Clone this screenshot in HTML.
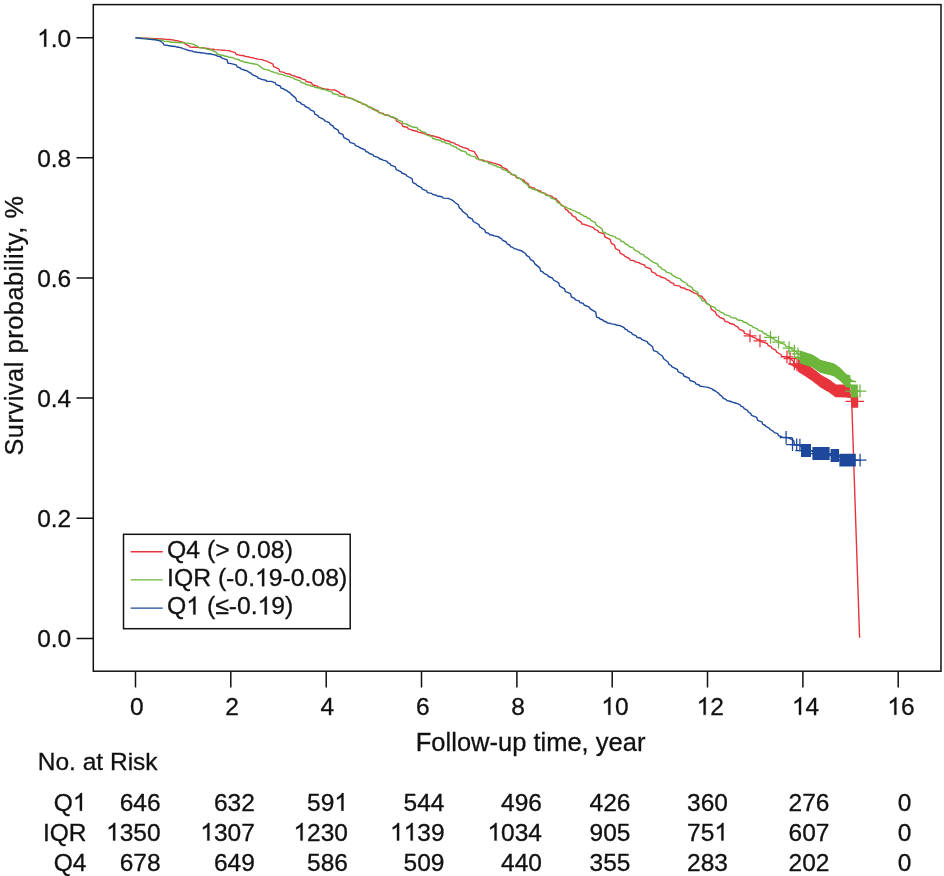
<!DOCTYPE html>
<html><head><meta charset="utf-8"><title>Survival</title>
<style>
html,body{margin:0;padding:0;background:#fff;}
svg{display:block;will-change:transform;opacity:0.999;}
text{white-space:pre;font-family:"Liberation Sans",sans-serif;font-size:24.5px;fill:#111;stroke:#111;stroke-width:0.3px;}
.g1{fill:#111;stroke:#111;stroke-width:0.012px;stroke-linejoin:round;}
</style></head><body>
<svg width="944" height="876" viewBox="0 0 944 876">
<rect width="944" height="876" fill="#fff"/>
<rect x="93.3" y="4.6" width="847.7" height="666.6" fill="none" stroke="#111" stroke-width="1.5"/>
<path d="M76.5,638.4H93.3M76.5,518.3H93.3M76.5,398.1H93.3M76.5,278.0H93.3M76.5,157.8H93.3M76.5,37.7H93.3M135.5,671.2V687.5M230.8,671.2V687.5M326.2,671.2V687.5M421.5,671.2V687.5M516.9,671.2V687.5M612.2,671.2V687.5M707.5,671.2V687.5M802.9,671.2V687.5M898.2,671.2V687.5" stroke="#111" stroke-width="1.5" fill="none"/>
<text x="37.14" y="647.4">0.0</text>
<text x="37.14" y="527.3">0.2</text>
<text x="37.14" y="407.1">0.4</text>
<text x="37.14" y="287.0">0.6</text>
<text x="37.14" y="166.8">0.8</text>
<path class="g1" transform="translate(37.14,46.7) scale(24.5)" d="M0.3726,0H0.2847V-0.5601Q0.2529,-0.5298 0.2014,-0.4995Q0.1499,-0.4692 0.1089,-0.4541V-0.5391Q0.1826,-0.5737 0.2378,-0.6230Q0.2930,-0.6724 0.3159,-0.7188H0.3726Z"/><text x="50.77" y="46.7">.0</text>
<text x="129.89" y="714.8">0</text>
<text x="225.23" y="714.8">2</text>
<text x="320.57" y="714.8">4</text>
<text x="415.91" y="714.8">6</text>
<text x="511.25" y="714.8">8</text>
<path class="g1" transform="translate(601.27,714.8) scale(24.5)" d="M0.3726,0H0.2847V-0.5601Q0.2529,-0.5298 0.2014,-0.4995Q0.1499,-0.4692 0.1089,-0.4541V-0.5391Q0.1826,-0.5737 0.2378,-0.6230Q0.2930,-0.6724 0.3159,-0.7188H0.3726Z"/><text x="614.90" y="714.8">0</text>
<path class="g1" transform="translate(696.61,714.8) scale(24.5)" d="M0.3726,0H0.2847V-0.5601Q0.2529,-0.5298 0.2014,-0.4995Q0.1499,-0.4692 0.1089,-0.4541V-0.5391Q0.1826,-0.5737 0.2378,-0.6230Q0.2930,-0.6724 0.3159,-0.7188H0.3726Z"/><text x="710.24" y="714.8">2</text>
<path class="g1" transform="translate(791.95,714.8) scale(24.5)" d="M0.3726,0H0.2847V-0.5601Q0.2529,-0.5298 0.2014,-0.4995Q0.1499,-0.4692 0.1089,-0.4541V-0.5391Q0.1826,-0.5737 0.2378,-0.6230Q0.2930,-0.6724 0.3159,-0.7188H0.3726Z"/><text x="805.58" y="714.8">4</text>
<path class="g1" transform="translate(887.29,714.8) scale(24.5)" d="M0.3726,0H0.2847V-0.5601Q0.2529,-0.5298 0.2014,-0.4995Q0.1499,-0.4692 0.1089,-0.4541V-0.5391Q0.1826,-0.5737 0.2378,-0.6230Q0.2930,-0.6724 0.3159,-0.7188H0.3726Z"/><text x="900.92" y="714.8">6</text>
<text x="415.8" y="750.8" style="font-size:25.5px">Follow-up time, year</text>
<text transform="translate(22.8,455.6) rotate(-90)" textLength="259.5" lengthAdjust="spacing" style="font-size:25.3px">Survival probability, %</text>
<g fill="none" stroke-width="1.4" stroke-linejoin="round">
<path d="M135.5,37.8L138.4,37.9L139.3,38.0L143.3,38.1L144.2,38.2L147.6,38.3L148.5,38.4L152.7,38.5L153.6,38.7L157.9,38.8L158.8,38.9L161.2,39.0L162.1,39.0L164.2,39.1L165.1,39.2L170.1,39.5L171.0,39.8L174.1,40.1L175.0,40.5L177.9,40.8L178.8,41.1L184.4,42.6L185.3,44.1L189.0,45.8L189.9,47.1L194.9,47.2L195.8,47.4L199.6,47.6L200.5,47.7L204.8,47.9L205.7,48.1L208.4,48.5L209.3,48.9L213.6,49.2L214.5,49.6L219.6,49.9L220.5,50.1L224.5,50.3L225.4,50.4L230.0,50.8L230.9,51.3L235.4,52.7L236.3,54.5L238.6,54.9L239.5,55.2L244.3,55.8L245.2,56.4L249.3,57.0L250.2,57.5L253.4,57.9L254.3,58.4L256.5,58.7L257.4,59.1L262.5,59.6L263.4,60.4L267.2,61.1L268.1,61.8L272.7,63.8L273.6,66.7L278.8,68.8L279.7,71.6L284.3,72.4L285.2,73.4L290.5,74.3L291.4,75.4L294.9,76.0L295.8,76.7L300.7,78.0L301.6,78.9L305.2,79.9L306.1,81.5L311.5,82.7L312.4,84.7L317.6,86.1L318.5,87.1L320.9,87.9L321.8,88.5L324.4,88.8L325.3,89.1L328.2,89.3L329.1,89.6L334.6,90.0L335.5,90.3L339.1,92.2L340.0,93.5L344.3,94.9L345.2,97.0L348.3,97.5L349.2,97.8L353.1,99.0L354.0,99.9L357.5,101.0L358.4,102.0L361.7,102.9L362.6,104.0L366.7,105.0L367.6,106.5L371.8,107.7L372.7,109.2L377.9,110.6L378.8,112.6L383.3,113.4L384.2,114.7L389.6,115.7L390.5,116.7L395.6,118.5L396.5,121.0L402.0,124.0L402.9,126.5L407.4,127.3L408.3,128.8L411.0,129.6L411.9,130.3L417.0,131.2L417.9,132.1L423.4,133.2L424.3,133.9L429.5,134.9L430.4,135.5L434.5,136.3L435.4,136.8L440.0,137.8L440.9,138.8L443.7,139.3L444.6,140.2L449.7,141.3L450.6,142.3L454.7,143.1L455.6,144.4L458.7,145.1L459.6,146.1L461.9,146.8L462.8,147.4L467.9,148.7L468.8,150.1L474.3,151.6L475.2,153.4L477.6,157.0L478.5,159.5L483.4,160.2L484.3,160.9L487.9,161.4L488.8,162.0L491.4,162.4L492.3,162.9L495.4,163.5L496.3,163.9L501.1,165.5L502.0,167.2L507.2,169.5L508.1,171.4L510.3,172.7L511.2,174.3L515.5,175.7L516.4,177.8L518.6,178.0L519.5,178.3L524.2,180.4L525.1,182.1L528.3,183.9L529.2,186.6L534.4,188.1L535.3,189.3L540.8,191.1L541.7,192.3L545.6,193.6L546.5,194.6L552.1,196.4L553.0,197.8L556.2,198.7L557.1,200.4L559.5,202.3L560.4,204.0L564.6,207.0L565.5,209.3L567.7,210.4L568.6,212.2L571.4,213.6L572.3,215.6L575.8,217.3L576.7,219.7L580.9,221.8L581.8,224.0L584.5,224.4L585.4,225.0L587.6,225.4L588.5,225.8L593.7,227.7L594.6,229.3L597.7,230.3L598.6,232.1L604.1,233.9L605.0,237.0L610.2,239.3L611.1,243.1L614.6,245.2L615.5,248.6L619.2,250.3L620.1,253.1L624.0,255.1L624.9,256.4L629.3,258.5L630.2,260.1L634.3,260.7L635.2,261.9L639.3,262.7L640.2,263.7L644.5,265.0L645.4,266.8L650.8,268.9L651.7,271.8L655.5,273.3L656.4,275.1L660.0,276.1L660.9,277.0L665.6,278.4L666.5,279.7L669.4,280.9L670.3,282.3L673.4,283.4L674.3,285.1L679.9,286.1L680.8,287.5L684.7,288.2L685.6,289.2L689.6,290.1L690.5,291.0L692.7,292.0L693.6,292.8L697.1,293.9L698.0,295.3L702.1,296.4L703.0,298.3L705.2,300.0L706.1,302.7L710.4,305.7L711.3,309.4L715.6,312.1L716.5,314.9L718.8,316.2L719.7,317.3L724.0,319.0L724.9,321.2L728.6,322.3L729.5,323.3L734.0,324.5L734.9,325.6L738.2,327.2L739.1,329.1L743.7,331.0L744.6,333.4L749.3,334.6L750.2,335.8L752.4,336.6L753.3,337.4L755.6,338.1L756.5,339.0L760.9,340.5L761.8,341.8L767.3,343.5L768.2,345.5L771.2,346.6L772.1,348.3L775.8,350.2L776.7,352.2L780.9,354.5L781.8,356.5L785.0,356.6L785.9,356.7L789.3,357.6L790.2,358.7L793.3,361.0L794.2,363.7L797.6,364.7L798.5,365.5L802.7,367.4L803.6,368.8L806.8,369.9L807.7,371.4L811.1,373.0L812.0,374.2L816.8,376.7L817.7,378.7L819.9,379.8L820.8,381.2L824.9,382.5L825.8,384.0L830.5,385.4L831.4,387.5L834.5,389.2L835.4,390.6L838.3,390.7L839.2,390.9L844.1,391.0L845.0,391.1L848.0,391.3L848.9,391.5L850.8,396.5L851.7,401.3 L859.6,637.8" stroke="#E6333C"/>
<path d="M743.6,335.8h12.8M750.0,329.4v12.8M753.6,340.8h12.8M760.0,334.4v12.8M780.6,356.8h12.8M787.0,350.4v12.8M783.7,358.6h12.8M790.1,352.2v12.8M788.0,363.9h12.8M794.4,357.5v12.8M790.6,364.9h12.8M797.0,358.5v12.8M792.2,365.5h12.8M798.6,359.1v12.8M793.0,366.0h12.8M799.4,359.6v12.8M793.8,366.5h12.8M800.2,360.1v12.8M794.6,367.1h12.8M801.0,360.7v12.8M795.4,367.6h12.8M801.8,361.2v12.8M796.2,368.1h12.8M802.6,361.7v12.8M797.0,368.6h12.8M803.4,362.2v12.8M797.8,369.2h12.8M804.2,362.8v12.8M798.6,369.7h12.8M805.0,363.3v12.8M799.4,370.2h12.8M805.8,363.8v12.8M800.2,370.7h12.8M806.6,364.3v12.8M801.0,371.2h12.8M807.4,364.8v12.8M801.8,371.8h12.8M808.2,365.4v12.8M802.6,372.3h12.8M809.0,365.9v12.8M803.4,372.8h12.8M809.8,366.4v12.8M804.2,373.3h12.8M810.6,366.9v12.8M805.0,373.8h12.8M811.4,367.4v12.8M805.8,374.4h12.8M812.2,368.0v12.8M806.6,375.0h12.8M813.0,368.6v12.8M807.4,375.6h12.8M813.8,369.2v12.8M808.2,376.3h12.8M814.6,369.9v12.8M809.0,376.9h12.8M815.4,370.5v12.8M809.8,377.5h12.8M816.2,371.1v12.8M810.6,378.2h12.8M817.0,371.8v12.8M811.4,378.8h12.8M817.8,372.4v12.8M812.2,379.4h12.8M818.6,373.0v12.8M813.0,380.1h12.8M819.4,373.7v12.8M813.8,380.7h12.8M820.2,374.3v12.8M814.6,381.3h12.8M821.0,374.9v12.8M815.4,381.8h12.8M821.8,375.4v12.8M816.2,382.2h12.8M822.6,375.8v12.8M817.0,382.7h12.8M823.4,376.3v12.8M817.8,383.1h12.8M824.2,376.7v12.8M818.6,383.6h12.8M825.0,377.2v12.8M819.4,384.0h12.8M825.8,377.6v12.8M820.2,384.5h12.8M826.6,378.1v12.8M821.0,384.9h12.8M827.4,378.5v12.8M821.8,385.4h12.8M828.2,379.0v12.8M822.6,385.8h12.8M829.0,379.4v12.8M823.4,386.4h12.8M829.8,380.0v12.8M824.2,387.0h12.8M830.6,380.6v12.8M825.0,387.6h12.8M831.4,381.2v12.8M825.8,388.2h12.8M832.2,381.8v12.8M826.6,388.8h12.8M833.0,382.4v12.8M827.4,389.4h12.8M833.8,383.0v12.8M828.2,390.0h12.8M834.6,383.6v12.8M829.0,390.6h12.8M835.4,384.2v12.8M829.8,390.8h12.8M836.2,384.4v12.8M830.6,390.8h12.8M837.0,384.4v12.8M831.4,390.8h12.8M837.8,384.4v12.8M832.2,390.9h12.8M838.6,384.5v12.8M833.0,390.9h12.8M839.4,384.5v12.8M833.8,390.9h12.8M840.2,384.5v12.8M834.6,390.9h12.8M841.0,384.5v12.8M835.4,390.9h12.8M841.8,384.5v12.8M836.2,391.0h12.8M842.6,384.6v12.8M837.0,391.0h12.8M843.4,384.6v12.8M837.8,391.0h12.8M844.2,384.6v12.8M838.6,391.1h12.8M845.0,384.7v12.8M839.4,391.2h12.8M845.8,384.8v12.8M840.2,391.2h12.8M846.6,384.8v12.8M841.0,391.3h12.8M847.4,384.9v12.8M841.8,391.4h12.8M848.2,385.0v12.8M842.6,391.5h12.8M849.0,385.1v12.8M843.4,391.6h12.8M849.8,385.2v12.8M845.6,401.3h12.8M852.0,394.9v12.8M846.4,401.3h12.8M852.8,394.9v12.8M847.2,401.3h12.8M853.6,394.9v12.8M848.0,401.3h12.8M854.4,394.9v12.8M848.8,401.3h12.8M855.2,394.9v12.8M849.6,401.3h12.8M856.0,394.9v12.8M850.4,401.3h12.8M856.8,394.9v12.8M851.2,401.3h12.8M857.6,394.9v12.8" stroke="#E6333C" stroke-width="1.25"/>
<path d="M135.5,37.8L139.8,38.0L140.7,38.3L145.4,38.5L146.3,38.8L151.2,39.0L152.1,39.3L157.5,39.6L158.4,39.9L163.0,40.5L163.9,41.1L169.3,41.5L170.2,42.2L172.4,42.3L173.3,42.3L177.0,42.5L177.9,42.6L183.3,42.8L184.2,43.0L188.6,43.1L189.5,43.4L194.7,44.6L195.6,45.8L198.1,46.4L199.0,47.4L202.8,47.9L203.7,48.4L206.6,48.9L207.5,49.3L211.5,50.0L212.4,50.5L216.5,52.4L217.4,54.2L219.6,54.7L220.5,55.0L223.4,55.4L224.3,56.0L227.3,56.5L228.2,57.0L233.5,57.9L234.4,58.6L239.2,59.8L240.1,60.7L242.8,61.3L243.7,62.0L248.6,62.7L249.5,63.2L252.1,63.5L253.0,63.8L257.2,64.4L258.1,65.0L260.7,66.8L261.6,67.9L263.7,68.8L264.6,69.4L269.7,70.4L270.6,71.4L273.4,72.0L274.3,72.6L277.2,73.1L278.1,73.9L283.6,74.9L284.5,75.6L289.7,76.6L290.6,77.3L293.7,78.2L294.6,79.2L300.1,80.8L301.0,82.3L305.0,83.5L305.9,84.5L310.3,85.4L311.2,86.1L314.0,86.6L314.9,87.2L320.3,88.2L321.2,89.0L325.8,89.7L326.7,90.4L332.1,92.2L333.0,93.8L338.3,94.9L339.2,96.2L342.3,96.5L343.2,96.9L346.6,97.3L347.5,97.6L350.2,98.0L351.1,98.5L353.7,99.4L354.6,100.1L356.9,100.7L357.8,101.7L360.9,102.4L361.8,103.6L366.1,104.7L367.0,106.0L369.1,106.9L370.0,107.7L374.4,108.9L375.3,110.6L378.6,111.8L379.5,112.9L382.7,113.8L383.6,114.6L388.6,115.2L389.5,116.4L393.3,117.0L394.2,117.8L397.4,118.8L398.3,120.3L402.0,121.4L402.9,123.4L407.5,124.2L408.4,125.5L410.7,126.0L411.6,126.7L417.1,127.7L418.0,129.3L420.2,130.1L421.1,131.3L425.8,132.7L426.7,135.1L431.8,136.7L432.7,138.5L434.9,139.0L435.8,139.5L440.6,140.5L441.5,141.5L444.9,142.3L445.8,143.2L449.9,144.0L450.8,145.2L452.9,145.9L453.8,146.5L456.1,147.1L457.0,148.4L459.7,149.3L460.6,150.5L466.1,152.1L467.0,154.2L469.8,155.0L470.7,155.9L475.4,156.9L476.3,158.5L481.7,159.9L482.6,161.1L488.0,162.1L488.9,163.5L492.2,164.1L493.1,165.1L496.4,166.0L497.3,166.9L501.3,167.8L502.2,169.3L507.0,170.7L507.9,172.2L510.3,172.9L511.2,173.9L516.0,175.5L516.9,177.1L521.8,179.6L522.7,181.3L527.8,184.8L528.7,187.6L530.9,188.1L531.8,188.8L537.2,190.2L538.1,191.3L540.5,192.1L541.4,192.7L544.7,193.7L545.6,195.0L549.9,196.1L550.8,197.8L556.1,199.9L557.0,202.1L560.3,203.8L561.2,205.6L566.5,207.1L567.4,208.2L571.4,209.5L572.3,210.3L575.5,211.2L576.4,212.1L579.6,213.0L580.5,214.1L583.2,215.3L584.1,216.2L586.5,216.8L587.4,218.0L590.0,218.9L590.9,220.3L595.4,222.7L596.3,225.2L601.9,228.6L602.8,232.0L605.5,232.6L606.4,233.6L608.7,234.4L609.6,235.1L615.1,236.8L616.0,238.1L620.0,239.4L620.9,241.0L624.4,242.4L625.3,243.9L628.2,245.0L629.1,246.5L633.3,247.9L634.2,249.8L639.2,252.1L640.1,253.6L643.8,254.9L644.7,256.6L648.3,258.3L649.2,259.5L651.5,260.8L652.4,261.8L657.7,264.1L658.6,266.4L660.8,267.4L661.7,268.8L665.5,270.7L666.4,272.1L671.4,273.7L672.3,275.4L674.9,276.3L675.8,277.4L680.5,278.8L681.4,280.6L686.8,283.5L687.7,285.4L692.0,287.4L692.9,289.6L697.8,292.4L698.7,296.4L701.1,298.3L702.0,300.5L705.6,301.7L706.5,303.5L709.2,304.7L710.1,305.9L715.1,307.6L716.0,309.6L719.2,310.6L720.1,311.9L723.7,313.4L724.6,314.6L730.2,316.2L731.1,317.6L736.2,318.3L737.1,319.7L742.6,320.8L743.5,322.0L747.2,323.0L748.1,324.3L751.9,325.9L752.8,327.1L757.5,328.8L758.4,330.3L762.2,331.4L763.1,333.0L766.2,334.0L767.1,335.3L770.6,336.3L771.5,337.9L774.1,339.2L775.0,340.1L778.4,341.2L779.3,342.7L784.9,344.4L785.8,346.2L791.2,347.9L792.1,349.8L796.4,351.6L797.3,353.3L801.2,355.5L802.1,357.6L805.4,358.4L806.3,359.0L808.7,359.4L809.6,360.1L812.6,361.0L813.5,361.7L818.4,363.3L819.3,365.5L824.4,366.5L825.3,367.6L828.7,368.1L829.6,368.7L834.4,369.6L835.3,370.9L840.1,373.0L841.0,375.2L845.6,377.8L846.5,380.8L850.9,385.3L851.8,391.0L856.6,391.0L857.5,391.0L859.1,391.0L860.0,391.0" stroke="#6DB63C"/>
<path d="M764.1,337.3h12.8M770.5,330.9v12.8M772.1,342.2h12.8M778.5,335.8v12.8M782.7,348.0h12.8M789.1,341.6v12.8M788.0,351.2h12.8M794.4,344.8v12.8M791.6,353.8h12.8M798.0,347.4v12.8M793.8,357.0h12.8M800.2,350.6v12.8M794.6,357.3h12.8M801.0,350.9v12.8M795.4,357.5h12.8M801.8,351.1v12.8M796.2,357.8h12.8M802.6,351.4v12.8M797.0,358.0h12.8M803.4,351.6v12.8M797.8,358.3h12.8M804.2,351.9v12.8M798.6,358.6h12.8M805.0,352.2v12.8M799.4,358.8h12.8M805.8,352.4v12.8M800.2,359.1h12.8M806.6,352.7v12.8M801.0,359.4h12.8M807.4,353.0v12.8M801.8,359.6h12.8M808.2,353.2v12.8M802.6,359.9h12.8M809.0,353.5v12.8M803.4,360.1h12.8M809.8,353.7v12.8M804.2,360.4h12.8M810.6,354.0v12.8M805.0,360.7h12.8M811.4,354.3v12.8M805.8,360.9h12.8M812.2,354.5v12.8M806.6,361.4h12.8M813.0,355.0v12.8M807.4,361.9h12.8M813.8,355.5v12.8M808.2,362.4h12.8M814.6,356.0v12.8M809.0,363.0h12.8M815.4,356.6v12.8M809.8,363.5h12.8M816.2,357.1v12.8M810.6,364.0h12.8M817.0,357.6v12.8M811.4,364.5h12.8M817.8,358.1v12.8M812.2,365.1h12.8M818.6,358.7v12.8M813.0,365.6h12.8M819.4,359.2v12.8M813.8,366.1h12.8M820.2,359.7v12.8M814.6,366.5h12.8M821.0,360.1v12.8M815.4,366.7h12.8M821.8,360.3v12.8M816.2,366.9h12.8M822.6,360.5v12.8M817.0,367.1h12.8M823.4,360.7v12.8M817.8,367.3h12.8M824.2,360.9v12.8M818.6,367.5h12.8M825.0,361.1v12.8M819.4,367.7h12.8M825.8,361.3v12.8M820.2,367.9h12.8M826.6,361.5v12.8M821.0,368.1h12.8M827.4,361.7v12.8M821.8,368.3h12.8M828.2,361.9v12.8M822.6,368.5h12.8M829.0,362.1v12.8M823.4,368.7h12.8M829.8,362.3v12.8M824.2,368.9h12.8M830.6,362.5v12.8M825.0,369.1h12.8M831.4,362.7v12.8M825.8,369.3h12.8M832.2,362.9v12.8M826.6,369.5h12.8M833.0,363.1v12.8M827.4,369.8h12.8M833.8,363.4v12.8M828.2,370.4h12.8M834.6,364.0v12.8M829.0,370.9h12.8M835.4,364.5v12.8M829.8,371.5h12.8M836.2,365.1v12.8M830.6,372.0h12.8M837.0,365.6v12.8M831.4,372.6h12.8M837.8,366.2v12.8M832.2,373.1h12.8M838.6,366.7v12.8M833.0,373.7h12.8M839.4,367.3v12.8M833.8,374.3h12.8M840.2,367.9v12.8M834.6,375.2h12.8M841.0,368.8v12.8M835.4,376.0h12.8M841.8,369.6v12.8M836.2,376.9h12.8M842.6,370.5v12.8M837.0,377.7h12.8M843.4,371.3v12.8M837.8,378.6h12.8M844.2,372.2v12.8M838.6,379.4h12.8M845.0,373.0v12.8M839.4,380.3h12.8M845.8,373.9v12.8M840.2,380.9h12.8M846.6,374.5v12.8M841.0,381.0h12.8M847.4,374.6v12.8M841.8,381.2h12.8M848.2,374.8v12.8M842.6,381.4h12.8M849.0,375.0v12.8M843.4,381.6h12.8M849.8,375.2v12.8M845.2,391.0h12.8M851.6,384.6v12.8M846.0,391.0h12.8M852.4,384.6v12.8M846.8,391.0h12.8M853.2,384.6v12.8M847.6,391.0h12.8M854.0,384.6v12.8M848.4,391.0h12.8M854.8,384.6v12.8M849.2,391.0h12.8M855.6,384.6v12.8M850.0,391.0h12.8M856.4,384.6v12.8M850.8,391.0h12.8M857.2,384.6v12.8M853.6,391.0h12.8M860.0,384.6v12.8" stroke="#6DB63C" stroke-width="1.25"/>
<path d="M135.5,37.8L138.7,38.1L139.6,38.3L142.3,38.5L143.2,38.6L147.5,38.9L148.4,39.2L150.8,39.4L151.7,39.6L155.7,39.8L156.6,40.1L159.9,40.9L160.8,41.5L163.2,43.2L164.1,45.0L167.9,45.4L168.8,45.8L171.1,46.0L172.0,46.3L175.6,46.5L176.5,47.0L178.8,47.2L179.7,47.5L182.1,48.2L183.0,48.6L186.6,49.6L187.5,50.3L192.5,51.1L193.4,51.7L196.0,52.0L196.9,52.2L199.7,52.5L200.6,52.8L204.9,53.1L205.8,53.5L211.2,54.0L212.1,54.4L216.3,55.2L217.2,56.1L220.7,56.7L221.6,57.8L227.1,59.8L228.0,63.2L230.2,63.4L231.1,63.6L236.2,64.9L237.1,66.8L240.3,68.0L241.2,69.1L243.8,69.8L244.7,70.3L247.2,70.9L248.1,71.7L251.2,73.4L252.1,74.7L257.1,76.6L258.0,78.0L260.7,78.8L261.6,79.4L265.8,80.2L266.7,81.3L271.0,81.4L271.9,81.6L275.3,82.9L276.2,84.7L280.2,86.0L281.1,88.1L283.5,88.7L284.4,89.7L286.7,90.5L287.6,91.3L290.4,93.1L291.3,94.4L295.8,98.1L296.7,101.1L300.3,102.4L301.2,103.9L304.4,105.2L305.3,106.5L309.4,108.3L310.3,109.8L314.0,111.4L314.9,114.2L318.0,115.7L318.9,117.2L323.8,119.3L324.7,120.9L329.3,122.7L330.2,124.3L333.1,126.2L334.0,127.8L338.1,130.1L339.0,132.8L343.0,134.7L343.9,137.6L349.0,140.2L349.9,142.3L354.6,143.8L355.5,145.7L358.6,146.7L359.5,147.5L365.0,149.8L365.9,151.5L368.4,152.4L369.3,153.5L372.9,154.7L373.8,156.2L378.6,157.7L379.5,158.8L382.1,159.5L383.0,160.1L386.8,161.1L387.7,162.6L389.9,163.6L390.8,165.2L395.3,166.9L396.2,169.6L400.9,171.6L401.8,173.0L406.0,174.7L406.9,176.0L412.0,178.6L412.9,182.6L416.1,184.2L417.0,185.4L421.5,187.7L422.4,189.2L426.6,190.9L427.5,192.6L431.7,193.4L432.6,194.4L436.3,195.2L437.2,196.0L442.2,196.8L443.1,198.1L448.5,198.4L449.4,198.9L453.2,200.6L454.1,201.8L458.5,205.0L459.4,208.0L461.7,209.6L462.6,211.4L467.2,214.7L468.1,217.0L472.4,219.1L473.3,221.5L478.9,224.6L479.8,226.9L484.8,230.0L485.7,232.5L488.8,233.4L489.7,234.8L493.1,235.3L494.0,235.9L498.5,236.7L499.4,237.7L501.5,238.7L502.4,240.1L506.2,242.0L507.1,243.8L509.7,245.0L510.6,246.7L513.2,247.6L514.1,248.6L516.4,249.0L517.3,249.6L522.0,251.0L522.9,251.9L525.5,253.5L526.4,255.4L529.4,257.2L530.3,259.3L533.7,261.4L534.6,263.6L539.8,267.9L540.7,271.0L543.1,272.1L544.0,273.3L547.6,275.2L548.5,276.5L552.6,278.2L553.5,280.0L558.7,282.9L559.6,286.1L564.5,288.8L565.4,291.7L570.5,293.6L571.4,297.0L574.5,298.3L575.4,299.9L579.0,300.9L579.9,302.5L583.2,303.4L584.1,305.0L589.3,307.1L590.2,308.8L595.7,312.1L596.6,317.1L599.2,318.0L600.1,319.0L602.8,320.0L603.7,321.0L606.6,322.0L607.5,323.0L610.4,323.4L611.3,323.9L615.1,324.4L616.0,325.0L620.2,325.6L621.1,326.2L624.1,327.7L625.0,329.0L627.1,329.8L628.0,331.2L631.6,332.8L632.5,334.4L635.9,335.6L636.8,337.2L640.9,338.2L641.8,339.6L647.2,341.7L648.1,343.4L652.6,346.8L653.5,350.6L657.4,351.9L658.3,353.3L662.6,356.3L663.5,358.8L668.0,362.0L668.9,364.3L671.2,365.5L672.1,366.9L677.3,369.3L678.2,371.8L683.0,373.8L683.9,376.0L689.1,378.2L690.0,380.5L694.9,382.2L695.8,383.8L699.3,385.0L700.2,386.3L703.7,386.6L704.6,386.9L707.0,387.1L707.9,387.4L712.2,388.9L713.1,390.0L715.5,391.0L716.4,391.8L718.7,393.4L719.6,394.6L722.4,396.8L723.3,398.3L726.0,399.3L726.9,400.6L730.2,401.2L731.1,401.8L733.4,402.4L734.3,402.8L736.4,403.3L737.3,403.7L739.9,404.7L740.8,406.2L743.3,407.2L744.2,408.7L747.5,410.3L748.4,412.2L750.6,413.3L751.5,415.3L756.7,417.3L757.6,420.3L761.8,421.8L762.7,424.2L765.3,425.5L766.2,426.7L769.2,428.2L770.1,429.5L773.4,431.3L774.3,432.6L777.7,433.7L778.6,435.6L781.1,436.5L782.0,437.3L787.1,437.5L788.0,437.7L793.6,440.4L794.5,444.7L798.2,444.9L799.1,445.1L802.9,448.3L803.8,450.5L806.2,450.5L807.1,450.5L809.6,450.5L810.5,450.5L813.8,451.8L814.7,453.5L817.7,453.5L818.6,453.5L823.6,453.5L824.5,453.5L827.2,453.5L828.1,453.5L830.2,454.3L831.1,455.5L836.6,455.5L837.5,455.5L841.4,457.8L842.3,460.2L844.9,460.2L845.8,460.2L849.8,460.2L850.7,460.2L852.9,460.2L853.8,460.2L857.8,460.2L858.7,460.2L859.2,460.2L860.1,460.2" stroke="#1D489C"/>
<path d="M779.7,437.5h12.8M786.1,431.1v12.8M786.1,444.5h12.8M792.5,438.1v12.8M790.3,444.9h12.8M796.7,438.5v12.8M793.5,445.2h12.8M799.9,438.8v12.8M795.2,450.5h12.8M801.6,444.1v12.8M796.0,450.5h12.8M802.4,444.1v12.8M796.8,450.5h12.8M803.2,444.1v12.8M797.6,450.5h12.8M804.0,444.1v12.8M798.4,450.5h12.8M804.8,444.1v12.8M799.2,450.5h12.8M805.6,444.1v12.8M800.0,450.5h12.8M806.4,444.1v12.8M800.8,450.5h12.8M807.2,444.1v12.8M801.6,450.5h12.8M808.0,444.1v12.8M802.4,450.5h12.8M808.8,444.1v12.8M803.2,450.5h12.8M809.6,444.1v12.8M804.0,450.5h12.8M810.4,444.1v12.8M806.6,453.5h12.8M813.0,447.1v12.8M807.4,453.5h12.8M813.8,447.1v12.8M808.2,453.5h12.8M814.6,447.1v12.8M809.0,453.5h12.8M815.4,447.1v12.8M809.8,453.5h12.8M816.2,447.1v12.8M810.6,453.5h12.8M817.0,447.1v12.8M811.4,453.5h12.8M817.8,447.1v12.8M812.2,453.5h12.8M818.6,447.1v12.8M813.0,453.5h12.8M819.4,447.1v12.8M813.8,453.5h12.8M820.2,447.1v12.8M814.6,453.5h12.8M821.0,447.1v12.8M815.4,453.5h12.8M821.8,447.1v12.8M816.2,453.5h12.8M822.6,447.1v12.8M817.0,453.5h12.8M823.4,447.1v12.8M817.8,453.5h12.8M824.2,447.1v12.8M818.6,453.5h12.8M825.0,447.1v12.8M819.4,453.5h12.8M825.8,447.1v12.8M820.2,453.5h12.8M826.6,447.1v12.8M821.0,453.5h12.8M827.4,447.1v12.8M821.8,453.5h12.8M828.2,447.1v12.8M822.6,453.5h12.8M829.0,447.1v12.8M824.8,455.5h12.8M831.2,449.1v12.8M825.6,455.5h12.8M832.0,449.1v12.8M826.4,455.5h12.8M832.8,449.1v12.8M827.2,455.5h12.8M833.6,449.1v12.8M828.0,455.5h12.8M834.4,449.1v12.8M828.8,455.5h12.8M835.2,449.1v12.8M829.6,455.5h12.8M836.0,449.1v12.8M830.4,455.5h12.8M836.8,449.1v12.8M831.2,455.5h12.8M837.6,449.1v12.8M832.0,455.5h12.8M838.4,449.1v12.8M833.6,460.2h12.8M840.0,453.8v12.8M834.4,460.2h12.8M840.8,453.8v12.8M835.2,460.2h12.8M841.6,453.8v12.8M836.0,460.2h12.8M842.4,453.8v12.8M836.8,460.2h12.8M843.2,453.8v12.8M837.6,460.2h12.8M844.0,453.8v12.8M838.4,460.2h12.8M844.8,453.8v12.8M839.2,460.2h12.8M845.6,453.8v12.8M840.0,460.2h12.8M846.4,453.8v12.8M840.8,460.2h12.8M847.2,453.8v12.8M841.6,460.2h12.8M848.0,453.8v12.8M842.4,460.2h12.8M848.8,453.8v12.8M843.2,460.2h12.8M849.6,453.8v12.8M844.0,460.2h12.8M850.4,453.8v12.8M844.8,460.2h12.8M851.2,453.8v12.8M845.6,460.2h12.8M852.0,453.8v12.8M846.4,460.2h12.8M852.8,453.8v12.8M847.2,460.2h12.8M853.6,453.8v12.8M848.0,460.2h12.8M854.4,453.8v12.8M848.8,460.2h12.8M855.2,453.8v12.8M853.7,460.2h12.8M860.1,453.8v12.8" stroke="#1D489C" stroke-width="1.25"/>
</g>
<rect x="123.5" y="534.3" width="226.7" height="94.4" fill="#fff" stroke="#111" stroke-width="1.5"/>
<path d="M130.7,551.7H162.8" stroke="#E6333C" stroke-width="1.4"/>
<text x="167.00" y="558.0" style="font-size:24.75px">Q4 (&gt; 0.08)</text>
<path d="M130.7,579.9H162.8" stroke="#6DB63C" stroke-width="1.4"/>
<text x="167.00" y="586.2" style="font-size:24.75px">IQR (-0.</text><path class="g1" transform="translate(255.00,586.2) scale(24.75)" d="M0.3726,0H0.2847V-0.5601Q0.2529,-0.5298 0.2014,-0.4995Q0.1499,-0.4692 0.1089,-0.4541V-0.5391Q0.1826,-0.5737 0.2378,-0.6230Q0.2930,-0.6724 0.3159,-0.7188H0.3726Z"/><text x="268.77" y="586.2" style="font-size:24.75px">9-0.08)</text>
<path d="M130.7,608.1H162.8" stroke="#1D489C" stroke-width="1.4"/>
<text x="167.00" y="614.4" style="font-size:24.75px">Q</text><path class="g1" transform="translate(186.25,614.4) scale(24.75)" d="M0.3726,0H0.2847V-0.5601Q0.2529,-0.5298 0.2014,-0.4995Q0.1499,-0.4692 0.1089,-0.4541V-0.5391Q0.1826,-0.5737 0.2378,-0.6230Q0.2930,-0.6724 0.3159,-0.7188H0.3726Z"/><text x="200.02" y="614.4" style="font-size:24.75px"> (≤-0.</text><path class="g1" transform="translate(257.60,614.4) scale(24.75)" d="M0.3726,0H0.2847V-0.5601Q0.2529,-0.5298 0.2014,-0.4995Q0.1499,-0.4692 0.1089,-0.4541V-0.5391Q0.1826,-0.5737 0.2378,-0.6230Q0.2930,-0.6724 0.3159,-0.7188H0.3726Z"/><text x="271.37" y="614.4" style="font-size:24.75px">9)</text>
<text x="37.8" y="770.3">No. at Risk</text>
<text x="53.82" y="810.7">Q</text><path class="g1" transform="translate(72.87,810.7) scale(24.5)" d="M0.3726,0H0.2847V-0.5601Q0.2529,-0.5298 0.2014,-0.4995Q0.1499,-0.4692 0.1089,-0.4541V-0.5391Q0.1826,-0.5737 0.2378,-0.6230Q0.2930,-0.6724 0.3159,-0.7188H0.3726Z"/>
<text x="119.72" y="810.7">646</text>
<text x="213.92" y="810.7">632</text>
<text x="307.12" y="810.7">59</text><path class="g1" transform="translate(334.37,810.7) scale(24.5)" d="M0.3726,0H0.2847V-0.5601Q0.2529,-0.5298 0.2014,-0.4995Q0.1499,-0.4692 0.1089,-0.4541V-0.5391Q0.1826,-0.5737 0.2378,-0.6230Q0.2930,-0.6724 0.3159,-0.7188H0.3726Z"/>
<text x="403.62" y="810.7">544</text>
<text x="501.12" y="810.7">496</text>
<text x="589.62" y="810.7">426</text>
<text x="687.12" y="810.7">360</text>
<text x="788.62" y="810.7">276</text>
<text x="897.87" y="810.7">0</text>
<text x="42.94" y="840.5">IQR</text>
<path class="g1" transform="translate(106.10,840.5) scale(24.5)" d="M0.3726,0H0.2847V-0.5601Q0.2529,-0.5298 0.2014,-0.4995Q0.1499,-0.4692 0.1089,-0.4541V-0.5391Q0.1826,-0.5737 0.2378,-0.6230Q0.2930,-0.6724 0.3159,-0.7188H0.3726Z"/><text x="119.72" y="840.5">350</text>
<path class="g1" transform="translate(200.30,840.5) scale(24.5)" d="M0.3726,0H0.2847V-0.5601Q0.2529,-0.5298 0.2014,-0.4995Q0.1499,-0.4692 0.1089,-0.4541V-0.5391Q0.1826,-0.5737 0.2378,-0.6230Q0.2930,-0.6724 0.3159,-0.7188H0.3726Z"/><text x="213.92" y="840.5">307</text>
<path class="g1" transform="translate(293.50,840.5) scale(24.5)" d="M0.3726,0H0.2847V-0.5601Q0.2529,-0.5298 0.2014,-0.4995Q0.1499,-0.4692 0.1089,-0.4541V-0.5391Q0.1826,-0.5737 0.2378,-0.6230Q0.2930,-0.6724 0.3159,-0.7188H0.3726Z"/><text x="307.12" y="840.5">230</text>
<path class="g1" transform="translate(390.00,840.5) scale(24.5)" d="M0.3726,0H0.2847V-0.5601Q0.2529,-0.5298 0.2014,-0.4995Q0.1499,-0.4692 0.1089,-0.4541V-0.5391Q0.1826,-0.5737 0.2378,-0.6230Q0.2930,-0.6724 0.3159,-0.7188H0.3726Z"/><path class="g1" transform="translate(403.62,840.5) scale(24.5)" d="M0.3726,0H0.2847V-0.5601Q0.2529,-0.5298 0.2014,-0.4995Q0.1499,-0.4692 0.1089,-0.4541V-0.5391Q0.1826,-0.5737 0.2378,-0.6230Q0.2930,-0.6724 0.3159,-0.7188H0.3726Z"/><text x="417.25" y="840.5">39</text>
<path class="g1" transform="translate(487.50,840.5) scale(24.5)" d="M0.3726,0H0.2847V-0.5601Q0.2529,-0.5298 0.2014,-0.4995Q0.1499,-0.4692 0.1089,-0.4541V-0.5391Q0.1826,-0.5737 0.2378,-0.6230Q0.2930,-0.6724 0.3159,-0.7188H0.3726Z"/><text x="501.12" y="840.5">034</text>
<text x="589.62" y="840.5">905</text>
<text x="687.12" y="840.5">75</text><path class="g1" transform="translate(714.37,840.5) scale(24.5)" d="M0.3726,0H0.2847V-0.5601Q0.2529,-0.5298 0.2014,-0.4995Q0.1499,-0.4692 0.1089,-0.4541V-0.5391Q0.1826,-0.5737 0.2378,-0.6230Q0.2930,-0.6724 0.3159,-0.7188H0.3726Z"/>
<text x="788.62" y="840.5">607</text>
<text x="897.87" y="840.5">0</text>
<text x="53.82" y="870.8">Q4</text>
<text x="119.72" y="870.8">678</text>
<text x="213.92" y="870.8">649</text>
<text x="307.12" y="870.8">586</text>
<text x="403.62" y="870.8">509</text>
<text x="501.12" y="870.8">440</text>
<text x="589.62" y="870.8">355</text>
<text x="687.12" y="870.8">283</text>
<text x="788.62" y="870.8">202</text>
<text x="897.87" y="870.8">0</text>
</svg></body></html>
